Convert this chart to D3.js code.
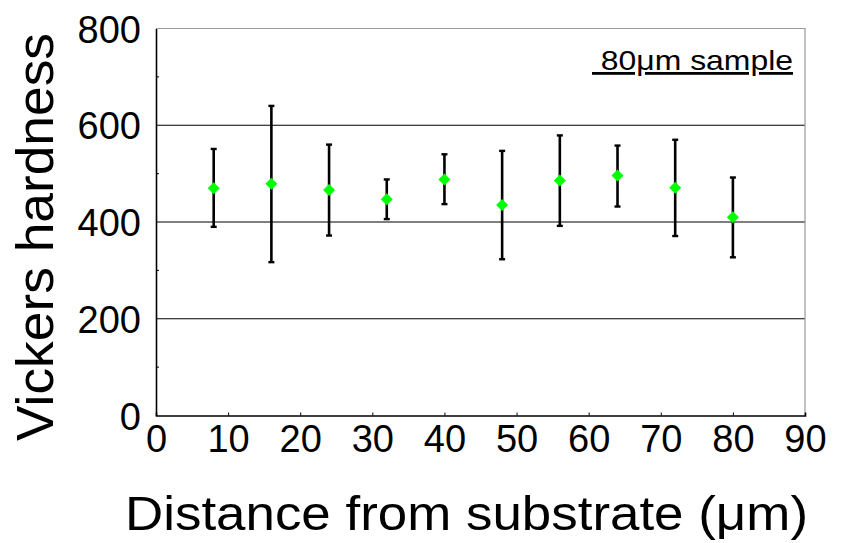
<!DOCTYPE html>
<html>
<head>
<meta charset="utf-8">
<script src="https://cdn.jsdelivr.net/npm/d3@7"></script>
<style>
  html, body { margin: 0; padding: 0; background: #fff; }
  svg { display: block; font-family: "Liberation Sans", Arial, sans-serif; }
</style>
</head>
<body>
<svg id="chart" width="846" height="543"></svg>
<script>
// ─── Data ───────────────────────────────────────────────────────────────────
const distances = [8, 16, 24, 32, 40, 48, 56, 64, 72, 80];              // µm
const hardness  = [470, 479, 466, 447, 488, 435, 486, 496, 471, 410];   // HV
const errHigh   = [81, 161, 94, 41, 52, 112, 93, 62, 99, 82];
const errLow    = [80, 162, 94, 41, 51, 112, 94, 64, 100, 83];
const xTicks = [0, 10, 20, 30, 40, 50, 60, 70, 80, 90];
const yTicks = [0, 200, 400, 600, 800];
const yMinor = [100, 300, 500, 700];

// ─── Layout ─────────────────────────────────────────────────────────────────
const M = { left: 156, right: 805, top: 28.5, bottom: 415.5 };

const svg = d3.select('#chart');

const x = d3.scaleLinear().domain([0, 90]).range([M.left, M.right]);
const y = d3.scaleLinear().domain([0, 800]).range([M.bottom, M.top]);

// ── Grid lines (200/400/600) ────────────────────────────────────────────────
svg.append('g')
  .selectAll('line')
  .data(yTicks.filter(d => d > 0 && d < 800))
  .join('line')
  .attr('x1', M.left).attr('x2', M.right)
  .attr('y1', d => y(d)).attr('y2', d => y(d))
  .attr('stroke', '#000')
  .attr('stroke-width', 1.2);

// ── Frame: grey top/right, black left/bottom ────────────────────────────────
svg.append('path')
  .attr('d', `M${M.left},${M.top}H${M.right}V${M.bottom}`)
  .attr('fill', 'none')
  .attr('stroke', '#999')
  .attr('stroke-width', 1.2);

// ── Axes ────────────────────────────────────────────────────────────────────
const xAxis = svg.append('g')
  .attr('transform', `translate(0,${M.bottom})`)
  .call(d3.axisBottom(x).tickValues(xTicks).tickSize(-3).tickPadding(10).tickFormat(d3.format('d')));

const yAxis = svg.append('g')
  .attr('transform', `translate(${M.left},0)`)
  .call(d3.axisLeft(y).tickValues(yTicks).tickSize(0).tickPadding(15).tickFormat(d3.format('d')));

// minor y ticks pointing into the plot
yAxis.selectAll('.minor')
  .data(yMinor)
  .join('line')
  .attr('class', 'minor')
  .attr('x1', 0).attr('x2', 3)
  .attr('y1', d => y(d)).attr('y2', d => y(d))
  .attr('stroke', '#000');

[xAxis, yAxis].forEach(g => {
  g.select('.domain').attr('stroke', '#000').attr('stroke-width', 1.6);
  g.selectAll('.tick line').attr('stroke', '#000');
  g.selectAll('.tick text')
    .attr('fill', '#000')
    .style('font-size', '38px')
    .style('font-family', '"Liberation Sans", Arial, sans-serif');
});
xAxis.selectAll('.tick').filter(d => d === 0 || d === 90).select('line').remove();
yAxis.selectAll('.tick text').attr('dy', '0.36em');
xAxis.selectAll('.tick text').attr('dy', '0.71em');

// ── Error bars ──────────────────────────────────────────────────────────────
const pts = distances.map((d, i) => ({ x: d, v: hardness[i], hi: hardness[i] + errHigh[i], lo: hardness[i] - errLow[i] }));

const bars = svg.append('g')
  .attr('stroke', '#000')
  .selectAll('g')
  .data(pts)
  .join('g');

bars.append('line')
  .attr('x1', d => x(d.x)).attr('x2', d => x(d.x))
  .attr('y1', d => y(d.hi)).attr('y2', d => y(d.lo))
  .attr('stroke-width', 2.6);

bars.selectAll('.cap')
  .data(d => [d.hi, d.lo].map(v => ({ x: d.x, v })))
  .join('line')
  .attr('class', 'cap')
  .attr('x1', d => x(d.x) - 3).attr('x2', d => x(d.x) + 3)
  .attr('y1', d => y(d.v)).attr('y2', d => y(d.v))
  .attr('stroke-width', 2.4);

// ── Markers: green diamonds ─────────────────────────────────────────────────
svg.append('g')
  .selectAll('path')
  .data(pts)
  .join('path')
  .attr('transform', d => `translate(${x(d.x)},${y(d.v)})`)
  .attr('d', 'M0,-6L6,0L0,6L-6,0Z')
  .attr('fill', '#00ff00');

// ── Annotation ──────────────────────────────────────────────────────────────
svg.append('text')
  .attr('x', 592)
  .attr('y', 70)
  .attr('textLength', 201)
  .attr('lengthAdjust', 'spacingAndGlyphs')
  .attr('xml:space', 'preserve')
  .style('font-size', '28px')
  .style('text-decoration', 'underline')
  .style('white-space', 'pre')
  .text(' 80μm sample');

// ── Axis titles ─────────────────────────────────────────────────────────────
svg.append('text')
  .attr('x', 125)
  .attr('y', 530)
  .attr('textLength', 683)
  .attr('lengthAdjust', 'spacingAndGlyphs')
  .style('font-size', '49px')
  .text('Distance from substrate (μm)');

svg.append('text')
  .attr('transform', 'translate(53,441) rotate(-90)')
  .attr('textLength', 408)
  .attr('lengthAdjust', 'spacingAndGlyphs')
  .style('font-size', '52px')
  .text('Vickers hardness');
</script>
</body>
</html>
